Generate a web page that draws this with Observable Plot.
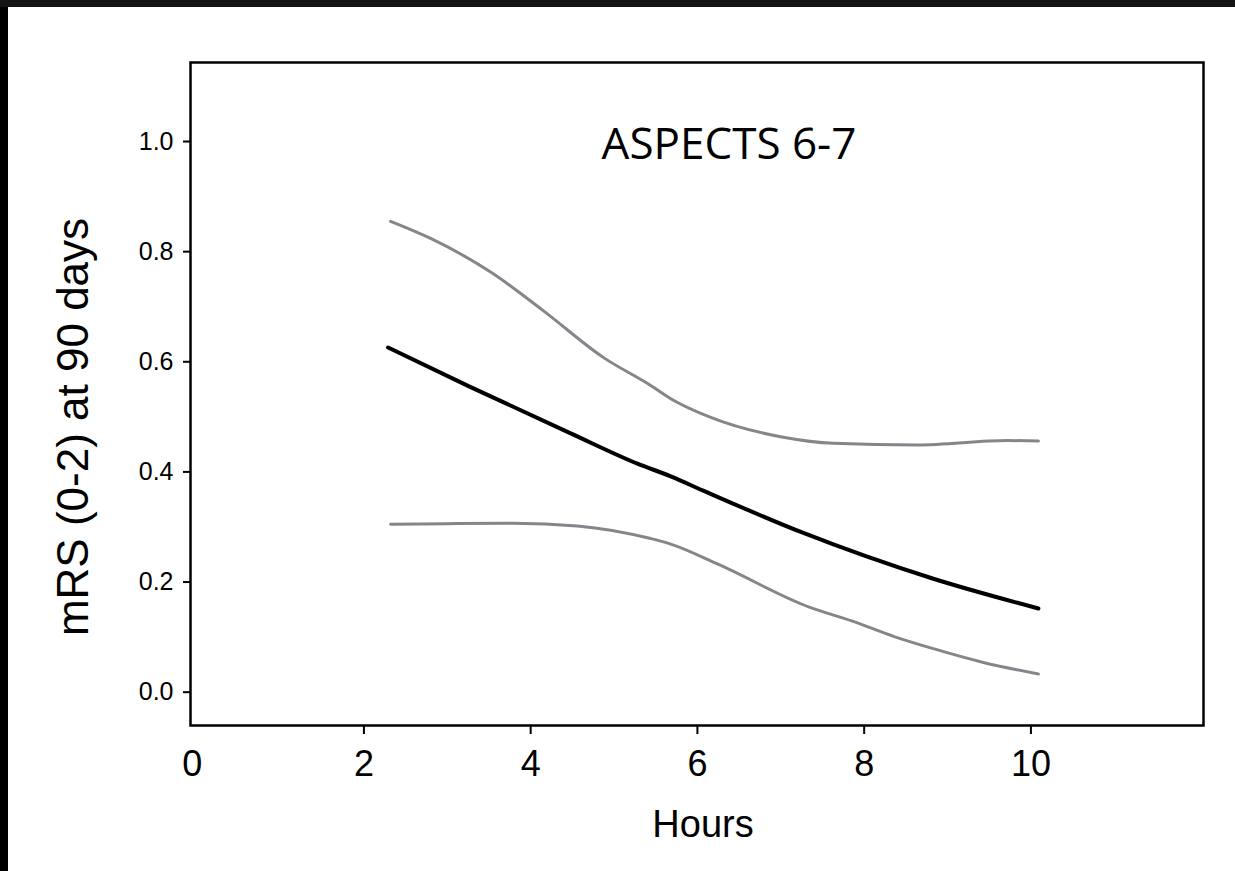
<!DOCTYPE html>
<html>
<head>
<meta charset="utf-8">
<script src="https://cdn.jsdelivr.net/npm/d3@7"></script>
<script src="https://cdn.jsdelivr.net/npm/@observablehq/plot@0.6"></script>
<style>
  html, body { margin: 0; padding: 0; background: #000; width: 1235px; height: 871px; overflow: hidden; }
  #topbar { position: absolute; left: 0; top: 0; width: 1235px; height: 7px; background: #141414; }
  #chart { position: absolute; left: 8px; top: 7px; width: 1227px; height: 864px; background: #fff; }
  #chart svg { display: block; }
</style>
</head>
<body>
<div id="topbar"></div>
<div id="chart"></div>
<script>
const titleText = "ASPECTS 6-7";
const xLabel = "Hours";
const yLabel = "mRS (0-2) at 90 days";
const xTicks = [0, 2, 4, 6, 8, 10];
const yTicks = [0, 0.2, 0.4, 0.6, 0.8, 1.0];

const hoursMid  = [2.29, 3.28, 4.48, 5.28, 5.68, 6.07, 7.24, 8.83, 10.09];
const probMid   = [0.626, 0.554, 0.470, 0.415, 0.392, 0.366, 0.291, 0.206, 0.152];

const hoursUpper = [2.32, 2.80, 3.52, 4.15, 4.87, 5.44, 5.68, 6.16, 7.03, 7.63, 8.64, 9.72, 10.09];
const probUpper  = [0.855, 0.824, 0.763, 0.693, 0.608, 0.557, 0.533, 0.499, 0.463, 0.452, 0.449, 0.457, 0.456];

const hoursLower = [2.32, 3.00, 3.79, 4.56, 5.44, 5.68, 6.24, 7.35, 7.84, 8.36, 8.83, 9.43, 10.09];
const probLower  = [0.305, 0.306, 0.307, 0.302, 0.279, 0.269, 0.233, 0.154, 0.130, 0.101, 0.079, 0.054, 0.033];

const mid = hoursMid.map((h, i) => ({h, p: probMid[i]}));
const upper = hoursUpper.map((h, i) => ({h, p: probUpper[i]}));
const lower = hoursLower.map((h, i) => ({h, p: probLower[i]}));

const gray = "#87858b";

const chart = Plot.plot({
  width: 1227,
  height: 864,
  marginLeft: 182,
  marginRight: 32,
  marginTop: 55,
  marginBottom: 146,
  x: {domain: [-0.08, 12.07]},
  y: {domain: [-0.0605, 1.1435]},
  style: {fontFamily: "'Liberation Sans', Arial, sans-serif", background: "#fff", color: "#000"},
  marks: [
    Plot.axisY(yTicks, {tickSize: 7, tickPadding: 10, tickFormat: d => d.toFixed(1), fontSize: 25, strokeWidth: 2, label: null}),
    Plot.axisX(xTicks.filter(d => d > 0), {tickSize: 9, tickPadding: 16, fontSize: 36, strokeWidth: 2, label: null}),
    Plot.axisX(xTicks.filter(d => d === 0), {tickSize: 0, tickPadding: 25, fontSize: 36, dx: -5, label: null}),
    Plot.line(upper, {x: "h", y: "p", stroke: gray, strokeWidth: 3, curve: "monotone-x"}),
    Plot.line(lower, {x: "h", y: "p", stroke: gray, strokeWidth: 3, curve: "monotone-x"}),
    Plot.line(mid, {x: "h", y: "p", stroke: "#000", strokeWidth: 4, curve: "monotone-x"}),
    Plot.frame({stroke: "#000", strokeWidth: 2.5}),
    Plot.text([titleText], {frameAnchor: "top", dx: 32, dy: 96, lineAnchor: "bottom", textAnchor: "middle", fontSize: 44, fontFamily: "'Open Sans', sans-serif", fill: "#000"}),
    Plot.text([xLabel], {frameAnchor: "bottom", dx: 6, dy: 111, lineAnchor: "bottom", textAnchor: "middle", fontSize: 38, fill: "#000"}),
    Plot.text([yLabel], {frameAnchor: "left", dx: -103, dy: 33, rotate: -90, lineAnchor: "bottom", textAnchor: "middle", fontSize: 44, fill: "#000"})
  ]
});
document.getElementById("chart").appendChild(chart);
</script>
</body>
</html>
